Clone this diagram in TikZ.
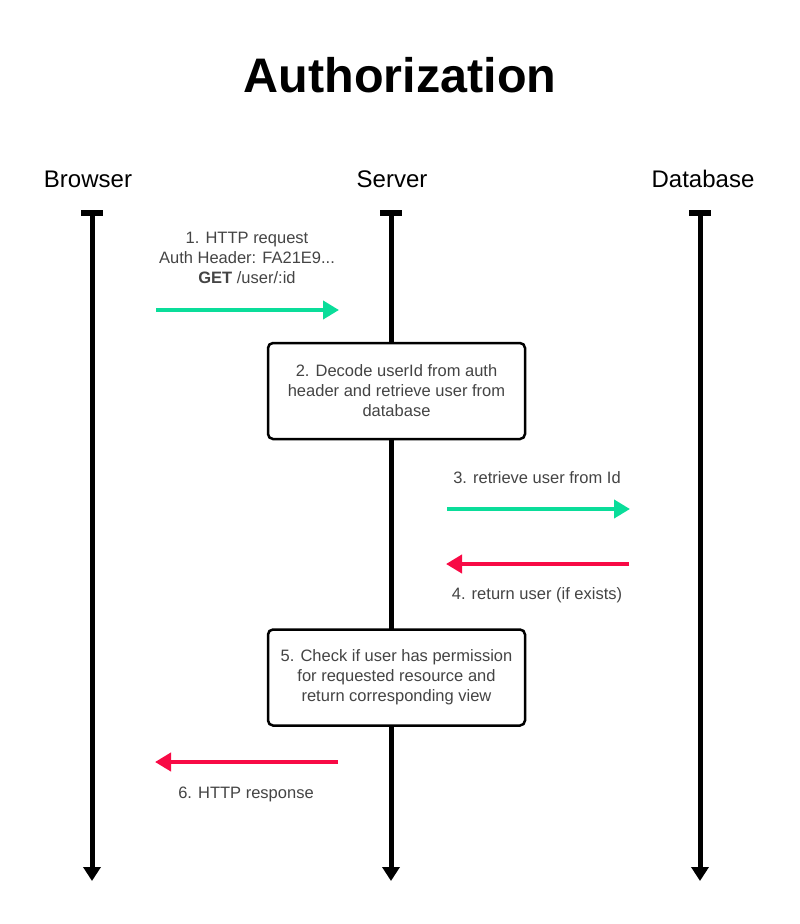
\documentclass[tikz,border=0pt]{standalone}
\usepackage{fontspec}
\setmainfont{Liberation Sans}
\usetikzlibrary{arrows.meta}
\definecolor{okgreen}{HTML}{0ADD9A}
\definecolor{errred}{HTML}{F80A45}
\definecolor{txtgray}{HTML}{444444}
\tikzset{
  lifeline/.style={line width=5pt, draw=black, {Rectangle[length=6pt,width=22pt]}-{Triangle[length=14pt,width=17pt]}},
  actor/.style={font=\fontsize{24}{28}\selectfont, text=black, inner sep=0pt},
  msglabel/.style={font=\fontsize{16.5}{20}\selectfont, text=txtgray, align=center, inner sep=0pt},
  okmsg/.style={line width=4pt, draw=okgreen, -{Triangle[length=16pt,width=18pt]}},
  errmsg/.style={line width=4pt, draw=errred, -{Triangle[length=16pt,width=18pt]}},
  stepbox/.style={draw=black, line width=2.5pt, rounded corners=5pt, fill=white, minimum width=257pt, minimum height=96pt, inner sep=0pt, align=center, font=\fontsize{16.5}{20}\selectfont, text=txtgray},
}
\begin{document}
\begin{tikzpicture}[x=1pt,y=-1pt]
\useasboundingbox (0,0) rectangle (800,924);
% title
\node[font=\fontsize{48.5}{56}\selectfont\bfseries, inner sep=0pt] (title) at (400,75) {Authorization};
% actors
\node[actor] (browser) at (88,179) {Browser};
\node[actor] (server) at (392,179) {Server};
\node[actor] (database) at (703,179) {Database};
% lifelines
\coordinate (btop) at (92,210);
\coordinate (bbot) at (92,881);
\coordinate (stop) at (391,210);
\coordinate (sbot) at (391,881);
\coordinate (dtop) at (700,210);
\coordinate (dbot) at (700,881);
\draw[lifeline] (btop) -- (bbot);
\draw[lifeline] (stop) -- (sbot);
\draw[lifeline] (dtop) -- (dbot);
% boxes
\node[stepbox] (decode) at (396.5,391) {2. Decode userId from auth\\header and retrieve user from\\database};
\node[stepbox] (check) at (396.5,677.5) {5. Check if user has permission\\for requested resource and\\return corresponding view};
% message 1
\node[msglabel] (m1) at (247,258) {1. HTTP request\\Auth Header: FA21E9...\\\textbf{GET} /user/:id};
\coordinate (m1s) at (156,310);
\coordinate (m1e) at (339,310);
\draw[okmsg] (m1s) -- (m1e);
% message 3
\node[msglabel] (m3) at (537,478) {3. retrieve user from Id};
\coordinate (m3s) at (447,509);
\coordinate (m3e) at (630,509);
\draw[okmsg] (m3s) -- (m3e);
% message 4
\coordinate (m4s) at (629,564);
\coordinate (m4e) at (446,564);
\draw[errmsg] (m4s) -- (m4e);
\node[msglabel] (m4) at (537,595) {4. return user (if exists)};
% message 6
\coordinate (m6s) at (338,762);
\coordinate (m6e) at (155,762);
\draw[errmsg] (m6s) -- (m6e);
\node[msglabel] (m6) at (246,794) {6. HTTP response};
\end{tikzpicture}
\end{document}
